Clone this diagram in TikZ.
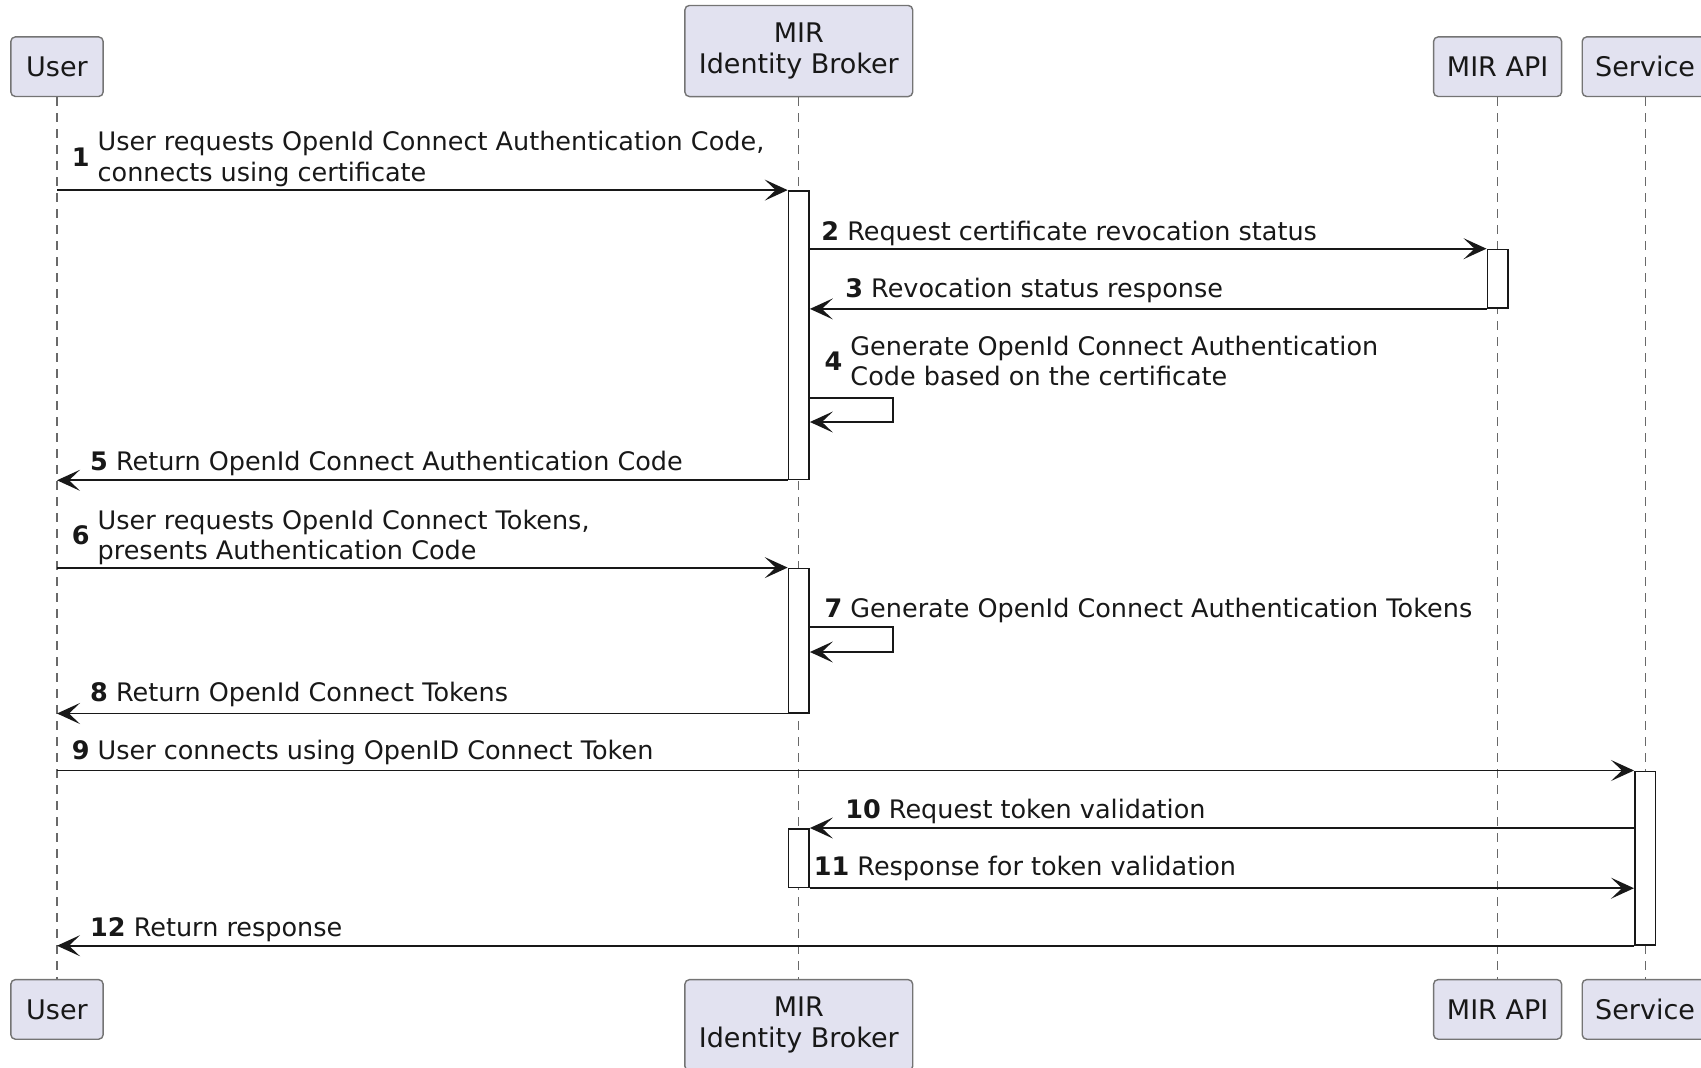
\documentclass[tikz,border=0pt]{standalone}
\usepackage{fontspec}
\setmainfont{DejaVu Sans}
\usetikzlibrary{arrows.meta}
\definecolor{partfill}{HTML}{E2E2F0}
\definecolor{ink}{HTML}{181818}

\begin{document}
\begin{tikzpicture}[x=1pt,y=-1pt,
  part/.style={draw=ink!60, fill=partfill, rounded corners=4.5pt, line width=1.4pt,
    inner sep=0pt, align=center, text=ink, font=\fontsize{27}{31.5}\selectfont},
  life/.style={draw=ink!65, line width=1.2pt, dash pattern=on 9pt off 7pt},
  actbar/.style={draw=ink, fill=white, line width=1.6pt, minimum width=20.6pt, inner sep=0pt},
  msg/.style={draw=ink, line width=1.8pt, -{Stealth[length=23pt,width=21pt,inset=11pt]}},
  lbl/.style={anchor=base west, inner sep=0pt, text=ink, font=\fontsize{25.5}{30.4}\selectfont},
]
\useasboundingbox (0,0) rectangle (1701,1068);
\clip (0,0) rectangle (1701,1068);

% participants, top row
\node[part, minimum width=92.3pt, minimum height=59.6pt] (uT) at (57,66.7) {User};
\node[part, minimum width=227.8pt, minimum height=91.1pt] (bT) at (798.8,51) {MIR\\Identity Broker};
\node[part, minimum width=128pt, minimum height=59.6pt] (aT) at (1497.6,66.7) {MIR API};
\node[part, minimum width=125.8pt, minimum height=59.6pt] (sT) at (1645.1,66.7) {Service};

% participants, bottom row
\node[part, minimum width=92.3pt, minimum height=59.6pt] (uB) at (57,1009.4) {User};
\node[part, minimum width=227.8pt, minimum height=91.1pt] (bB) at (798.8,1025.2) {MIR\\Identity Broker};
\node[part, minimum width=128pt, minimum height=59.6pt] (aB) at (1497.6,1009.4) {MIR API};
\node[part, minimum width=125.8pt, minimum height=59.6pt] (sB) at (1645.1,1009.4) {Service};

% lifelines
\draw[life] (uT.south) -- (uB.north);
\draw[life] (bT.south) -- (bB.north);
\draw[life] (aT.south) -- (aB.north);
\draw[life] (sT.south) -- (sB.north);

% activation bars
\node[actbar, minimum height=288.6pt] (act1) at (798.8,335.2) {};
\node[actbar, minimum height=58.6pt] (act2) at (1497.6,278.8) {};
\node[actbar, minimum height=144.3pt] (act3) at (798.8,640.55) {};
\node[actbar, minimum height=173.6pt] (act4) at (1645.1,858.1) {};
\node[actbar, minimum height=58.6pt] (act5) at (798.8,858.1) {};

% messages
\draw[msg] (uT |- act1.north) -- (act1.north west);
\draw[msg] (act1.east |- act2.north) -- (act2.north west);
\draw[msg] (act2.south west) -- (act1.east |- act2.south);
\draw[msg] (act1.east |- 0,398.1) -- (892.8,398.1) -- (892.8,422) -- (act1.east |- 0,422);
\draw[msg] (act1.south west) -- (uT |- act1.south);
\draw[msg] (uT |- act3.north) -- (act3.north west);
\draw[msg] (act3.east |- 0,627) -- (892.8,627) -- (892.8,652) -- (act3.east |- 0,652);
\draw[msg] (act3.south west) -- (uT |- act3.south);
\draw[msg] (uT |- act4.north) -- (act4.north west);
\draw[msg] (act4.west |- act5.north) -- (act5.north east);
\draw[msg] (act5.south east) -- (act4.west |- act5.south);
\draw[msg] (act4.south west) -- (uT |- act4.south);

% message labels
\node[lbl] (l1) at (71.6,166.3) {\textbf{1} \begin{tabular}[c]{@{}l@{}}User requests OpenId Connect Authentication Code,\\connects using certificate\end{tabular}};
\node[lbl] (l2) at (821.2,240.1) {\textbf{2} Request certificate revocation status};
\node[lbl] (l3) at (845.1,297.6) {\textbf{3} Revocation status response};
\node[lbl] (l4) at (824.4,370.8) {\textbf{4} \begin{tabular}[c]{@{}l@{}}Generate OpenId Connect Authentication\\Code based on the certificate\end{tabular}};
\node[lbl] (l5) at (90,470) {\textbf{5} Return OpenId Connect Authentication Code};
\node[lbl] (l6) at (71.6,544.9) {\textbf{6} \begin{tabular}[c]{@{}l@{}}User requests OpenId Connect Tokens,\\presents Authentication Code\end{tabular}};
\node[lbl] (l7) at (824.4,617.6) {\textbf{7} Generate OpenId Connect Authentication Tokens};
\node[lbl] (l8) at (90,701.1) {\textbf{8} Return OpenId Connect Tokens};
\node[lbl] (l9) at (71.6,759.7) {\textbf{9} User connects using OpenID Connect Token};
\node[lbl] (l10) at (845.1,818.3) {\textbf{10} Request token validation};
\node[lbl] (l11) at (813.6,875.8) {\textbf{11} Response for token validation};
\node[lbl] (l12) at (90,936.5) {\textbf{12} Return response};
\end{tikzpicture}
\end{document}
